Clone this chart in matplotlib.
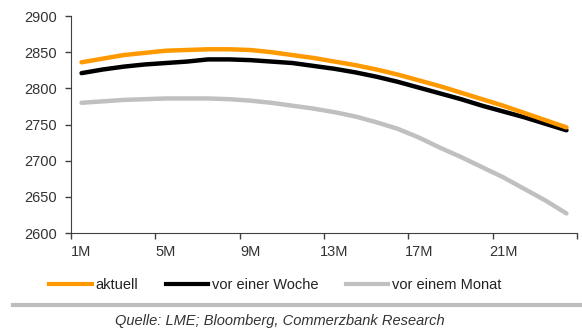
import matplotlib
matplotlib.use("Agg")
import matplotlib.pyplot as plt
from matplotlib.lines import Line2D

plt.rcParams['font.family'] = ['Liberation Sans', 'DejaVu Sans']

months = [f"{m}M" for m in range(1, 25)]
aktuell = [2836, 2841, 2846, 2849, 2852, 2853, 2854, 2854, 2853, 2850, 2846, 2842,
           2837, 2832, 2826, 2819, 2811, 2803, 2794, 2785, 2776, 2766, 2756, 2746]
woche = [2821, 2826, 2830, 2833, 2835, 2837, 2840, 2840, 2839, 2837, 2835, 2831,
         2827, 2822, 2816, 2809, 2801, 2793, 2785, 2776, 2768, 2760, 2751, 2742]
monat = [2780, 2782, 2784, 2785, 2786, 2786, 2786, 2785, 2783, 2780, 2776, 2772,
         2767, 2761, 2753, 2744, 2732, 2718, 2705, 2691, 2677, 2661, 2645, 2627]
series = [("aktuell", aktuell, "#ff9900"),
          ("vor einer Woche", woche, "#000000"),
          ("vor einem Monat", monat, "#c0c0c0")]

fig = plt.figure(figsize=(5.82, 3.31), dpi=100)
ax = fig.add_axes([71/582, 1-233/331, (577-71)/582, (233-16)/331])

x = list(range(len(months)))
for name, vals, col in reversed(series):
    ax.plot(x, vals, color=col, lw=3.2, solid_capstyle='round',
            solid_joinstyle='round', label=name)

ax.set_xlim(-0.5, len(months) - 0.5)
ax.set_ylim(2600, 2900)
ax.set_yticks(range(2600, 2901, 50))
ax.set_xticks(x[::4])
ax.set_xticklabels(months[::4])
ax.set_xticks([i - 0.5 for i in range(0, 25, 4)], minor=True)
ax.tick_params(axis='x', which='major', length=0, pad=9)
ax.tick_params(axis='x', which='minor', length=4, width=1, color='#404040')
ax.tick_params(axis='y', length=4, width=1, color='#404040', pad=6)
ax.tick_params(labelsize=10.5, labelcolor='#333333')
for s in ['top', 'right']:
    ax.spines[s].set_visible(False)
for s in ['left', 'bottom']:
    ax.spines[s].set_color('#404040')

handles = [Line2D([], [], color=c, lw=3) for _, _, c in series]
fig.legend(handles, [n for n, _, _ in series], loc='center',
           bbox_to_anchor=(0.473, 1-285/331), ncol=3, frameon=False,
           fontsize=10.5, handlelength=2.9, handletextpad=0.25, columnspacing=1.9,
           labelcolor='#222222')

fig.add_artist(Line2D([13/582, 1.0], [1-305/331, 1-305/331], color='#bdbdbd', lw=3))
fig.text(0.48, 1-321/331, "Quelle: LME; Bloomberg, Commerzbank Research",
         ha='center', va='center', fontsize=10.5, style='italic', color='#333333')

fig.savefig("out.png", dpi=100)
